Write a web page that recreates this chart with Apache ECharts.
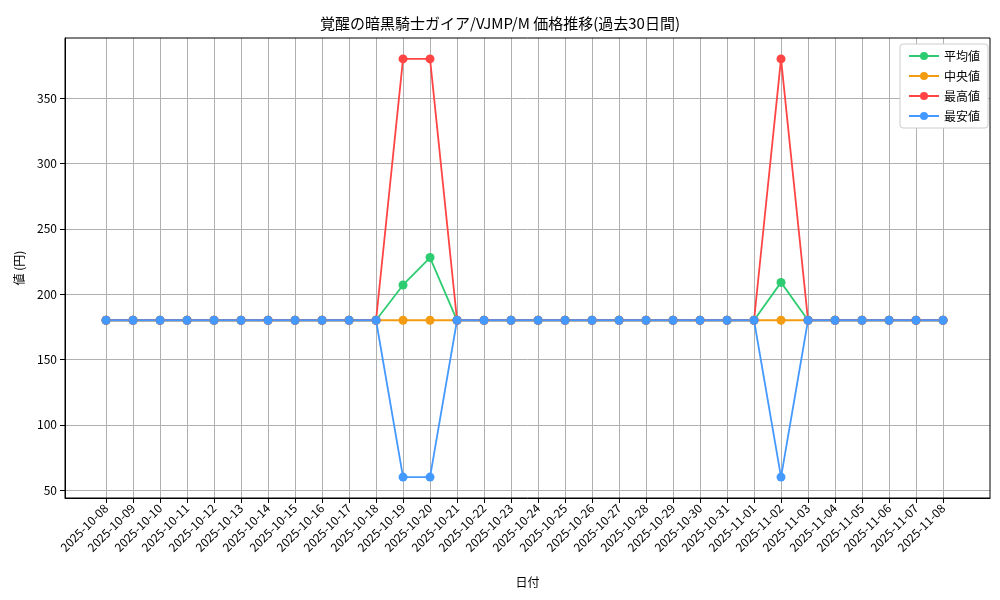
<!DOCTYPE html>
<html><head><meta charset="utf-8">
<script src="https://cdn.jsdelivr.net/npm/echarts@6/dist/echarts.min.js"></script>
<style>html,body{margin:0;background:#fff}#main{width:1000px;height:600px}</style>
</head><body><div id="main"></div>
<script>
var dates = ['2025-10-08','2025-10-09','2025-10-10','2025-10-11','2025-10-12','2025-10-13','2025-10-14','2025-10-15',
  '2025-10-16','2025-10-17','2025-10-18','2025-10-19','2025-10-20','2025-10-21','2025-10-22','2025-10-23',
  '2025-10-24','2025-10-25','2025-10-26','2025-10-27','2025-10-28','2025-10-29','2025-10-30','2025-10-31',
  '2025-11-01','2025-11-02','2025-11-03','2025-11-04','2025-11-05','2025-11-06','2025-11-07','2025-11-08'];
var avgVals = [180,180,180,180,180,180,180,180,180,180,180,207,228,180,180,180,180,180,180,180,180,180,180,180,180,209,180,180,180,180,180,180];
var medVals = [180,180,180,180,180,180,180,180,180,180,180,180,180,180,180,180,180,180,180,180,180,180,180,180,180,180,180,180,180,180,180,180];
var maxVals = [180,180,180,180,180,180,180,180,180,180,180,380,380,180,180,180,180,180,180,180,180,180,180,180,180,380,180,180,180,180,180,180];
var minVals = [180,180,180,180,180,180,180,180,180,180,180,60,60,180,180,180,180,180,180,180,180,180,180,180,180,60,180,180,180,180,180,180];
var yTicks = [50,100,150,200,250,300,350];

window.onload = function () {
  var myChart = echarts.init(document.getElementById('main'));
  var font = '"Noto Sans CJK JP", sans-serif';
  function pts(arr) { return arr.map(function (v, i) { return [i, v]; }); }
  function line(name, color, arr) {
    return { name: name, type: 'line', data: pts(arr), symbol: 'circle', symbolSize: 9,
      itemStyle: { color: color }, lineStyle: { color: color, width: 1.8 } };
  }
  var xIdx = dates.map(function (d, i) { return i; });
  var option = {
    animation: false,
    textStyle: { fontFamily: font },
    title: { text: '覚醒の暗黒騎士ガイア/VJMP/M 価格推移(過去30日間)', left: 'center', top: 11,
      textStyle: { fontSize: 15, fontWeight: 'normal', color: '#000', fontFamily: font } },
    legend: { right: 12, top: 44, orient: 'vertical', itemWidth: 30, itemHeight: 10, itemGap: 8,
      backgroundColor: '#fff', borderColor: '#ccc', borderWidth: 1, borderRadius: 3, padding: [6, 8],
      textStyle: { fontSize: 12, color: '#000' },
      data: ['平均値', '中央値', '最高値', '最安値'] },
    grid: { left: 65, right: 10, top: 38, bottom: 102 },
    xAxis: { type: 'value', min: -1.52, max: 32.74, name: '日付', nameLocation: 'middle', nameGap: 78,
      nameTextStyle: { fontSize: 12, color: '#000' },
      axisLine: { show: true, onZero: false, lineStyle: { color: '#000' } },
      axisTick: { show: true, customValues: xIdx, lineStyle: { color: '#000' } },
      axisLabel: { customValues: xIdx, rotate: 45, fontSize: 12, color: '#000',
        formatter: function (v) { return dates[Math.round(v)] || ''; } },
      splitLine: { show: true, lineStyle: { color: '#b0b0b0' } } },
    yAxis: { type: 'value', min: 44, max: 396, name: '値 (円)', nameLocation: 'middle', nameGap: 40,
      nameTextStyle: { fontSize: 12, color: '#000' },
      axisLine: { show: true, onZero: false, lineStyle: { color: '#000' } },
      axisTick: { show: true, customValues: yTicks, lineStyle: { color: '#000' } },
      axisLabel: { customValues: yTicks, fontSize: 12, color: '#000' },
      splitLine: { show: true, lineStyle: { color: '#b0b0b0' } } },
    graphic: [{ type: 'rect', shape: { x: 65, y: 38, width: 925, height: 460 }, silent: true, z: 100,
      style: { fill: null, stroke: '#000', lineWidth: 1 } }],
    series: [
      line('平均値', '#2ecc71', avgVals),
      line('中央値', '#f39c12', medVals),
      line('最高値', '#ff4444', maxVals),
      line('最安値', '#4499ff', minVals)
    ]
  };
  option && myChart.setOption(option);
};
</script></body></html>
